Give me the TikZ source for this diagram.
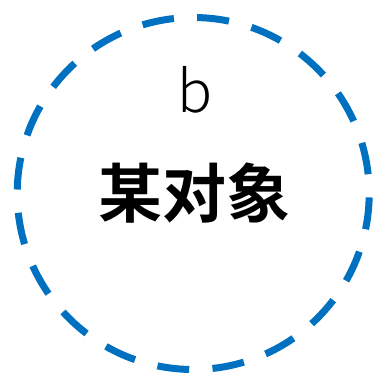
\documentclass[tikz,border=0pt]{standalone}
\usepackage{fontspec}
\newfontfamily\cjkbold[BoldFont={* Bold}]{Noto Sans CJK SC}
\newfontfamily\cjklight{Noto Sans CJK SC Light}
\definecolor{objblue}{RGB}{0,112,192}
\begin{document}
\begin{tikzpicture}[x=1pt,y=1pt,
  ring/.style={circle, draw=objblue, line width=7pt, minimum size=352pt, inner sep=0pt,
    dash pattern=on 32pt off 23.3pt, dash phase=36pt},
  lbl/.style={inner sep=0pt, anchor=base}]
\useasboundingbox (0,0) rectangle (375,376);
\node[ring] (obj) at (193.2,182.5) {};
\node[lbl, font=\cjklight\fontsize{58}{58}\selectfont] (b) at (195,263) {b};
\node[lbl, font=\cjkbold\bfseries\fontsize{64}{64}\selectfont] (name) at (195,158) {某对象};
\end{tikzpicture}
\end{document}
